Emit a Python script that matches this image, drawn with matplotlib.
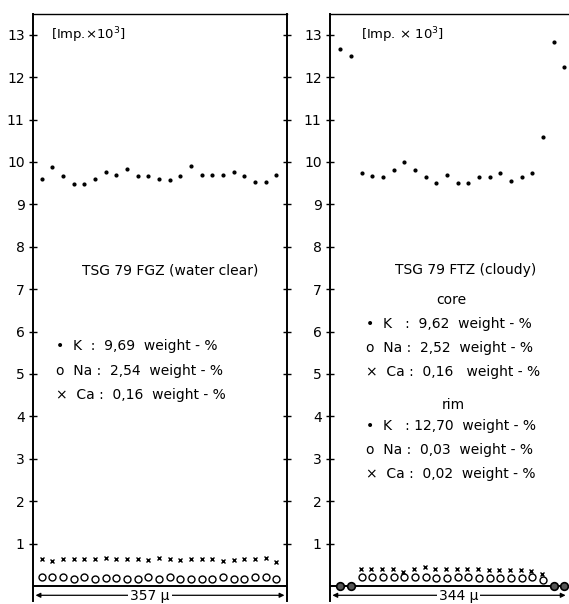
import matplotlib
matplotlib.use("Agg")
import matplotlib.pyplot as plt
import numpy as np

plt.rcParams['font.family'] = ['DejaVu Sans']

# ---- Left panel: TSG 79 FGZ (water clear) ----
left_K = [9.60, 9.88, 9.68, 9.49, 9.49, 9.60, 9.77, 9.70, 9.83, 9.66, 9.66, 9.60,
          9.58, 9.68, 9.90, 9.70, 9.70, 9.70, 9.77, 9.68, 9.53, 9.53, 9.70]
left_Na = [0.20, 0.22, 0.22, 0.17, 0.22, 0.17, 0.18, 0.18, 0.17, 0.17, 0.22, 0.17,
           0.20, 0.17, 0.17, 0.17, 0.17, 0.22, 0.17, 0.17, 0.20, 0.20, 0.17]
left_Ca = [0.63, 0.59, 0.63, 0.63, 0.63, 0.63, 0.67, 0.63, 0.63, 0.63, 0.61, 0.66,
           0.63, 0.61, 0.63, 0.63, 0.63, 0.59, 0.61, 0.63, 0.63, 0.65, 0.57]

# ---- Right panel: TSG 79 FTZ (cloudy) ----
right_K = [12.67, 12.50, 9.73, 9.68, 9.65, 9.80, 10.01, 9.81, 9.65, 9.50, 9.69,
           9.50, 9.50, 9.64, 9.64, 9.74, 9.56, 9.64, 9.74, 10.59, 12.84, 12.25]
right_Na_core = [0.21, 0.21, 0.21, 0.21, 0.21, 0.21, 0.21, 0.19, 0.19, 0.21, 0.21,
                 0.19, 0.19, 0.19, 0.19, 0.19, 0.21, 0.14]
right_Ca_core = [0.39, 0.39, 0.39, 0.40, 0.34, 0.39, 0.44, 0.39, 0.39, 0.39, 0.40,
                 0.40, 0.37, 0.38, 0.38, 0.38, 0.36, 0.29]
right_rim_idx = [1, 2, 21, 22]
right_rim_val = [0.0, 0.0, 0.0, 0.0]

yticks = list(range(1, 14))

left_texts = dict(title="TSG 79 FGZ (water clear)", unit="[Imp.×10$^3$]", width="357 μ",
                  lines=["•  K  :  9,69  weight - %", "o  Na :  2,54  weight - %",
                         "×  Ca :  0,16  weight - %"])
right_texts = dict(title="TSG 79 FTZ (cloudy)", unit="[Imp. × 10$^3$]", width="344 μ",
                   core=["•  K   :  9,62  weight - %", "o  Na :  2,52  weight - %",
                         "×  Ca :  0,16   weight - %"],
                   rim=["•  K   : 12,70  weight - %", "o  Na :  0,03  weight - %",
                        "×  Ca :  0,02  weight - %"])

W, H = 569, 604
fig = plt.figure(figsize=(W / 100, H / 100), dpi=100)

ymin, ymax = -0.35, 13.5
top_px = 13.6
bot_px = 600.8


def make_ax(x0, x1, right_spine=True):
    ax = fig.add_axes([x0 / W, 1 - bot_px / H, (x1 - x0) / W, (bot_px - top_px) / H])
    ax.set_ylim(ymin, ymax)
    for s in ['left', 'right']:
        ax.spines[s].set_linewidth(1.4)
    ax.spines['top'].set_linewidth(1.0)
    ax.spines['bottom'].set_visible(False)
    ax.spines['right'].set_visible(right_spine)
    ax.axhline(0, color='black', lw=1.4)
    ax.set_yticks(yticks)
    ax.set_yticklabels([str(t) for t in yticks])
    ax.tick_params(axis='y', direction='inout', length=6, width=1.0, left=True,
                   right=right_spine, labelsize=10, pad=3)
    ax.set_xticks([])
    return ax


# Left panel
axL = make_ax(33, 287)
n = len(left_K)
xl = np.arange(1, n + 1)
axL.set_xlim(0.18, 24.0)
axL.plot(xl, left_K, 'o', color='black', ms=2.0, ls='none')
axL.plot(xl, left_Na, 'o', mfc='white', mec='black', ms=5, mew=1.0, ls='none')
axL.plot(xl, left_Ca, 'x', color='black', ms=3.5, mew=1.0, ls='none')

trL = axL.get_yaxis_transform()
axL.text(0.07, 0.963, left_texts['unit'], transform=axL.transAxes, fontsize=9.5,
         va='center', ha='left')
axL.text(0.54, 7.45, left_texts['title'], fontsize=10, ha='center', va='center',
         transform=trL)
for i, t in enumerate(left_texts['lines']):
    axL.text(0.09, 5.65 - i * 0.57, t, fontsize=10, ha='left', va='center',
             transform=trL)

# Right panel
axR = make_ax(330, 568, right_spine=False)
xr = np.arange(1, len(right_K) + 1)
axR.set_xlim(0.035, 22.35)
axR.plot(xr, right_K, 'o', color='black', ms=2.0, ls='none')
xcore = np.arange(3, 3 + len(right_Na_core))
axR.plot(xcore, right_Na_core, 'o', mfc='white', mec='black', ms=5, mew=1.0, ls='none')
axR.plot(xcore - 0.1, right_Ca_core, 'x', color='black', ms=3.5, mew=1.0, ls='none')
axR.plot(right_rim_idx, right_rim_val, 'o', mfc='#555555', mec='black', ms=5.5,
         mew=1.2, ls='none', clip_on=False, zorder=5)

trR = axR.get_yaxis_transform()
axR.text(0.13, 0.963, right_texts['unit'], transform=axR.transAxes, fontsize=9.5,
         va='center', ha='left')
axR.text(0.57, 7.45, right_texts['title'], fontsize=10, ha='center', va='center',
         transform=trR)
axR.text(0.51, 6.75, "core", fontsize=10, ha='center', va='center', transform=trR)
for i, t in enumerate(right_texts['core']):
    axR.text(0.15, 6.17 - i * 0.56, t, fontsize=10, ha='left', va='center',
             transform=trR)
axR.text(0.52, 4.27, "rim", fontsize=10, ha='center', va='center', transform=trR)
for i, t in enumerate(right_texts['rim']):
    axR.text(0.15, 3.77 - i * 0.57, t, fontsize=10, ha='left', va='center',
             transform=trR)

# width arrows
for ax, lab, cx in [(axL, left_texts['width'], 0.46), (axR, right_texts['width'], 0.54)]:
    tr = ax.get_yaxis_transform()
    ax.annotate('', xy=(0.01, -0.22), xytext=(0.99, -0.22), xycoords=tr, textcoords=tr,
                arrowprops=dict(arrowstyle='<|-|>', color='black', lw=0.9,
                                mutation_scale=7, shrinkA=0, shrinkB=0))
    ax.text(cx, -0.23, lab, transform=tr, fontsize=10, ha='center', va='center',
            bbox=dict(facecolor='white', edgecolor='none', pad=1.5))

fig.savefig('out.png', dpi=100)
